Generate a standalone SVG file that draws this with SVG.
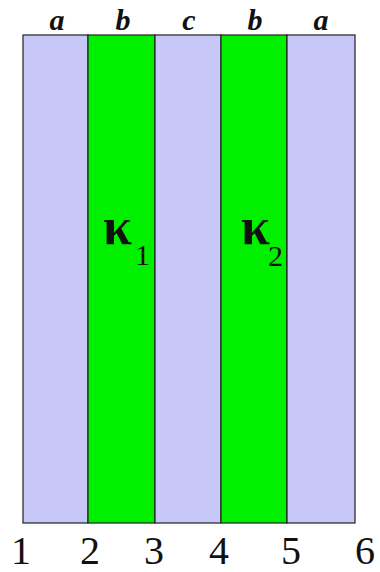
<svg xmlns="http://www.w3.org/2000/svg" width="380" height="572" viewBox="0 0 380 572">
<style>
.lav{fill:#C8C8F8;stroke:#202020;stroke-width:1.2}
.grn{fill:#00F000;stroke:#202020;stroke-width:1.2}
text{font-family:"Liberation Serif","Times New Roman","DejaVu Serif",serif;fill:#111}
.top{font-style:italic;font-weight:bold;font-size:30px;text-anchor:middle}
.num{font-size:40px;text-anchor:middle}
.k{font-weight:bold;font-size:52px}
.sub{font-size:30px}
</style>
<rect x="0" y="0" width="380" height="572" fill="#fff"/>
<g id="strip-a1"><rect class="lav" x="23" y="35" width="65" height="488"/><text class="top" x="57" y="30">a</text></g>
<g id="strip-b1"><rect class="grn" x="88" y="35" width="67" height="488"/><text class="top" x="123" y="30">b</text>
<text class="k" x="103" y="244">κ</text><text class="sub" x="135" y="265">1</text></g>
<g id="strip-c"><rect class="lav" x="155" y="35" width="66" height="488"/><text class="top" x="189" y="30">c</text></g>
<g id="strip-b2"><rect class="grn" x="221" y="35" width="66" height="488"/><text class="top" x="255" y="30">b</text>
<text class="k" x="241" y="244">κ</text><text class="sub" x="268" y="266">2</text></g>
<g id="strip-a2"><rect class="lav" x="287" y="35" width="68" height="488"/><text class="top" x="321" y="30">a</text></g>
<g id="labels">
<text class="num" x="21" y="564">1</text>
<text class="num" x="90" y="564">2</text>
<text class="num" x="154" y="564">3</text>
<text class="num" x="219" y="564">4</text>
<text class="num" x="291" y="564">5</text>
<text class="num" x="365" y="564">6</text>
</g>
<g id="connectors"/>
</svg>
